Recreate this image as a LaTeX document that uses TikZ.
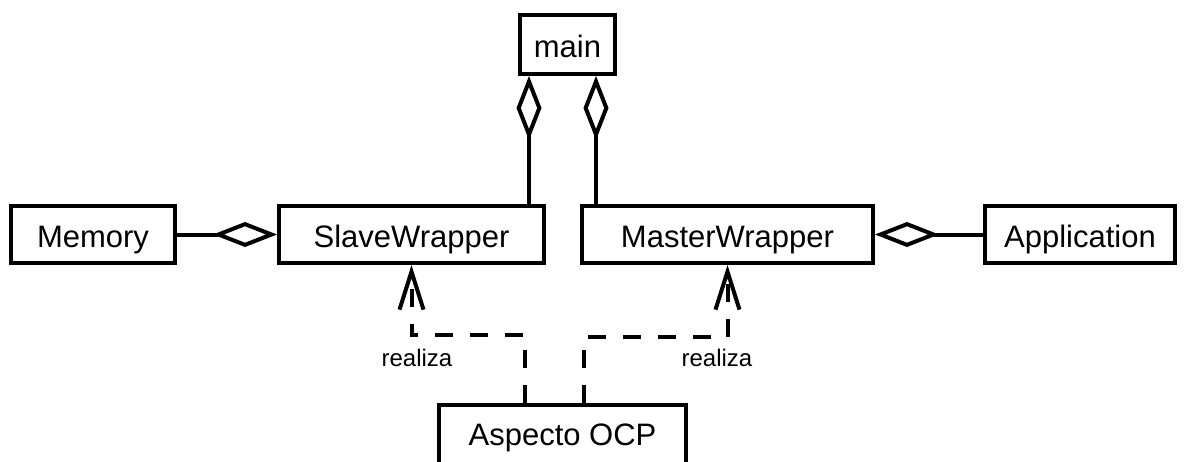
\documentclass[tikz,border=0pt]{standalone}
\usepackage{fontspec}
\setmainfont{Liberation Sans}
\usetikzlibrary{arrows.meta,calc}
\tikzset{
  cls/.style={draw, line width=4pt, minimum height=57pt, inner sep=0pt,
    text height=34pt, text depth=8pt,
    font=\fontsize{31}{36}\selectfont},
  agg/.style={line width=4pt, {Diamond[open,length=64pt,width=25pt,line join=miter]}-},
  dep/.style={line width=4pt, dash pattern=on 18pt off 17pt,
    -{Straight Barb[length=38pt,width=24pt]}},
  lbl/.style={font=\fontsize{24}{28}\selectfont, inner sep=0pt}
}
\begin{document}
\begin{tikzpicture}[x=1pt,y=-1pt]
\useasboundingbox (0,0) rectangle (1187,461);
\fill[white] (0,0) rectangle (1187,461);
\node[cls, minimum width=95pt, minimum height=59pt] (main) at (567.5,44.5) {main};
\node[cls, minimum width=164pt] (memory) at (93,234.5) {Memory};
\node[cls, minimum width=265pt] (slave) at (411.5,234.5) {SlaveWrapper};
\node[cls, minimum width=291pt] (master) at (727.5,234.5) {MasterWrapper};
\node[cls, minimum width=190pt] (app) at (1080,234.5) {Application};
\node[cls, minimum width=247pt, minimum height=66pt, text height=24pt, text depth=10pt] (asp) at (562.5,438) {Aspecto OCP};
\coordinate (m1) at ($(main.south west)+(11,0)$);
\coordinate (m2) at ($(main.south east)+(-21,0)$);
\draw[agg] (m1) -- (m1 |- slave.north);
\draw[agg] (m2) -- (m2 |- master.north);
\draw[agg] (slave.west) -- (memory.east);
\draw[agg] (master.east) -- (app.west);
\coordinate (a1) at ($(asp.north)+(-37.5,0)$);
\coordinate (a2) at ($(asp.north)+(21.5,0)$);
\draw[dep] (a1) -- ++(0,-68) -| (slave.south);
\draw[dep] (a2) -- ++(0,-66) -| (master.south);
\node[lbl] (r1) at (417,358) {realiza};
\node[lbl] (r2) at (717,358) {realiza};
\end{tikzpicture}
\end{document}
